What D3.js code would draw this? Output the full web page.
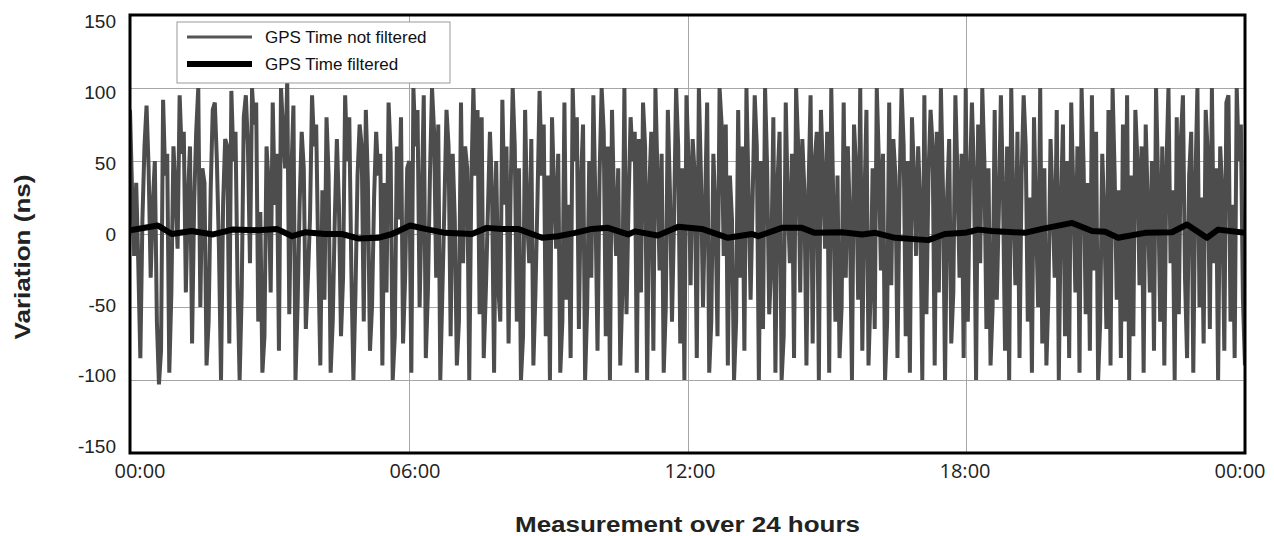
<!doctype html>
<html>
<head>
<meta charset="UTF-8" />
<title>GPS Time variation</title>
<script src="https://d3js.org/d3.v7.min.js"></script>
<style type="text/css">
body {
	margin: 0;
	background: #fff;
}

.grid line {
	stroke: #a6a6a6;
	stroke-width: 1px;
	shape-rendering: crispEdges;
}

.grid path {
	display: none;
}

.axis path, .axis line {
	display: none;
}

.y.axis text {
	font: 19px "Liberation Sans", Arial, sans-serif;
	fill: #222;
}

.x.axis text {
	font: 20px "Open Sans", sans-serif;
	fill: #222;
}

.title {
	font: bold 22px "Liberation Sans", Arial, sans-serif;
	fill: #222;
}

.raw {
	fill: none;
	stroke: #4d4d4d;
	stroke-width: 4px;
	stroke-linejoin: miter;
	stroke-miterlimit: 3;
}

.filtered {
	fill: none;
	stroke: #000;
	stroke-width: 6px;
	stroke-linejoin: round;
}

.legend text {
	font: 17px "Liberation Sans", Arial, sans-serif;
	fill: #111;
}
</style>
</head>
<body>
<script>
	// raw GPS time offset, 540 samples over the day (ns)
	var rawValues = [
		85, 30, -15, 35, -20, -85, 10, 60, 88, 45, -30, 20, 50, -60, -103,
		-80, 92, 40, 55, -95, -40, 60, 30, -10, 95, 55, 70, -40, 25, 60,
		-75, 20, 70, 100, -50, 45, 35, -90, -60, 30, 85, 90, 50, -10, -100,
		20, 65, 60, -75, 98, 50, 70, -35, -100, -40, 80, 95, 60, -20, 100,
		75, 90, -60, 15, -95, -70, 60, 35, -40, 90, 20, 55, -80, 100, 70,
		45, 105, -55, 40, 88, -100, -50, 20, 70, 45, -65, -30, 10, 95, 60,
		75, -15, -90, 30, -45, 80, 40, -95, -60, 10, 65, 20, -70, -30, 95,
		50, 80, -25, -100, -40, 40, 75, 60, -60, 85, 35, -80, -50, 25, 70,
		40, 55, -90, 35, -40, 90, 55, -100, -70, 60, 10, 80, -75, -30, 45,
		50, -95, 100, 60, 85, -50, 20, 95, -85, -40, 40, 100, 70, -30, 75,
		-100, -40, 20, 85, 60, -70, 55, 10, -90, -60, 90, -20, 60, 45, -100,
		35, 100, 40, 85, -55, 80, -85, -40, 15, 70, 30, -95, 50, -35, -60,
		92, 20, 60, -75, 30, 100, 60, -60, 45, -100, -70, 85, 10, -20, 65,
		-90, -40, 25, 98, 40, 75, -70, 40, -100, 80, 30, -10, 55, -95, -60,
		90, -45, 20, -85, 100, 50, 80, -65, 35, 75, -100, -50, 50, -30, 95,
		20, -80, 40, 100, 70, -70, 60, -100, 85, 20, -15, 45, -90, -40, 100,
		-55, 20, 80, 50, 70, -95, 65, -40, 90, 60, -100, 30, 70, -80, 100,
		40, -25, 55, -95, -50, 85, 30, -60, 10, 100, 60, -75, 45, -100, 95,
		50, -35, 65, 40, -85, 100, 40, -50, 20, 90, -95, -60, 55, 15, -70,
		100, 75, -15, 75, -90, 40, 10, -100, -60, 85, -30, 60, -80, 100, 30,
		-45, 25, 95, 60, -100, 50, -65, 100, 45, -55, -20, 80, -95, 35, 70,
		-100, -70, 90, 20, -20, 55, -85, 100, 60, -40, 65, 30, -90, 30, 95,
		-75, 50, 70, -100, 85, 40, -10, 70, -95, 100, 20, -60, 40, -85, -50,
		90, -30, 60, 10, -100, 75, 45, -45, 100, -80, 20, 85, -90, -40, 45,
		-65, 100, 50, -25, 55, -100, -60, 90, -35, 65, 40, -85, 30, 100, 60,
		-70, 50, -95, 80, 40, -15, 60, 20, -100, 95, -55, 40, 85, 60, -90,
		70, -40, 100, 30, -100, 25, 65, -75, -40, 95, 40, -30, 55, -85, 100,
		-60, 35, 90, 40, -100, 75, -20, 100, 50, -65, 45, -90, -50, 85, -45,
		15, 95, 30, -80, 60, -100, 100, 20, -35, 70, -85, 40, 95, 60, -60,
		25, -95, 80, 10, -50, 100, -75, 45, -90, -40, 65, 20, -30, 85, -100,
		20, 75, -70, 50, -85, 90, 30, -40, 60, -95, 100, 45, -55, 35, -80,
		95, -25, 70, -100, -60, 55, 10, -65, 85, -90, 100, 40, -45, 30, -85,
		75, -60, 95, -100, 40, -70, 85, 50, -35, 60, -95, 75, 20, -40, 50,
		-80, 100, 35, -60, 60, -90, 45, 100, -20, 30, -100, 80, -55, 65, 95,
		-30, -85, 40, 70, -95, 35, 100, -50, 25, -75, 85, 55, -65, 100, -20,
		45, -100, 60, 30, -80, 90, 95, -60, 20, -85, 100, 50, 75, -45, -90
	];

	// filtered series: hour of day, offset (ns)
	var filteredHours = [
		0.0, 0.6, 0.9, 1.33, 1.79, 2.2, 2.76, 3.16, 3.49, 3.77, 4.2, 4.56, 4.91, 5.34, 5.64,
		6.03, 6.35, 6.78, 7.36, 7.68, 8.0, 8.35, 8.87, 9.21, 9.58, 9.94, 10.29, 10.72, 10.87,
		11.36, 11.8, 12.31, 12.87, 13.39, 13.52, 14.03, 14.46, 14.74, 15.32, 15.76, 16.04,
		16.47, 17.18, 17.54, 17.97, 18.25, 18.55, 19.26, 19.63, 20.28, 20.71, 20.99, 21.27,
		21.85, 22.43, 22.75, 23.18, 23.42, 24.0
	];
	var filteredValues = [
		2.6, 5.8, 0, 2, -0.3, 3, 2.6, 3.5, -1.5, 1.2, 0, 0, -3, -2.6, 0,
		5.8, 3.5, 0.8, 0, 4.2, 3.5, 3.5, -2.6, -1.5, 0.8, 3.5, 4.2, -0.3, 1.8,
		-1, 4.9, 3.5, -2.6, 0, -1.5, 4.2, 4.2, 0.8, 1.2, -0.3, 0.8,
		-2.6, -4.2, 0, 0.8, 3, 2, 0.8, 3.5, 7.6, 2, 1.5, -2.6,
		0.8, 1.2, 6.5, -2.6, 3, 0.8
	];

	var yTicks = [-150, -100, -50, 0, 50, 100, 150];
	var seriesNames = ["GPS Time not filtered", "GPS Time filtered"];

	var margin = {top: 15, right: 29, bottom: 83, left: 130},
		width = 1274 - margin.left - margin.right,
		height = 536 - margin.top - margin.bottom;

	var day0 = new Date(2000, 0, 1, 0, 0),
		day1 = new Date(2000, 0, 2, 0, 0);

	var x = d3.scaleTime()
		.domain([day0, day1])
		.range([0, width]);

	var y = d3.scaleLinear()
		.domain([-150, 150])
		.range([height, 0]);

	// tick labels sit slightly inside the grid in the original
	var xLabel = d3.scaleTime()
		.domain([day0, day1])
		.range([9.5, width - 5.5]);

	var yLabel = d3.scaleLinear()
		.domain([-150, 150])
		.range([height - 7, 5.5]);

	var hourToDate = function(h) { return new Date(day0.getTime() + h * 3600000); };

	var raw = rawValues.map(function(v, i) {
		return {t: hourToDate(i * 24 / (rawValues.length - 1)), v: v};
	});
	var filtered = filteredValues.map(function(v, i) {
		return {t: hourToDate(filteredHours[i]), v: v};
	});

	var svg = d3.select("body").append("svg")
			.attr("width", 1274)
			.attr("height", 536)
		.append("g")
			.attr("transform", "translate(" + margin.left + "," + margin.top + ")");

	var hourTicks = d3.timeHour.every(6).range(day0, new Date(day1.getTime() + 1));

	svg.append("defs").append("clipPath")
			.attr("id", "clip")
		.append("rect")
			.attr("width", width)
			.attr("height", height);

	// grid
	svg.append("g")
		.attr("class", "grid")
		.call(d3.axisLeft(y).tickValues([-100, -50, 0, 50, 100]).tickSize(-width).tickFormat(""));

	svg.append("g")
		.attr("class", "grid")
		.attr("transform", "translate(0," + height + ")")
		.call(d3.axisBottom(x).tickValues(hourTicks.slice(1, -1)).tickSize(-height).tickFormat(""));

	// tick labels
	svg.append("g")
		.attr("class", "y axis")
		.call(d3.axisLeft(yLabel).tickValues(yTicks).tickSize(0).tickPadding(14)
			.tickFormat(function(d) { return String(d); }))
		.selectAll("text")
		.attr("dy", "0.36em");

	svg.append("g")
		.attr("class", "x axis")
		.attr("transform", "translate(0," + height + ")")
		.call(d3.axisBottom(xLabel).tickValues(hourTicks).tickSize(0).tickPadding(11).tickFormat(d3.timeFormat("%H:%M")));

	var line = d3.line()
		.x(function(d) { return x(d.t); })
		.y(function(d) { return y(d.v); });

	var chart = svg.append("g")
		.attr("clip-path", "url(#clip)");

	chart.append("path")
		.datum(raw)
		.attr("class", "raw")
		.attr("d", line);

	chart.append("path")
		.datum(filtered)
		.attr("class", "filtered")
		.attr("d", line);

	// frame
	svg.append("rect")
		.attr("width", width)
		.attr("height", height)
		.attr("fill", "none")
		.attr("stroke", "#000")
		.attr("stroke-width", 3);

	// legend
	var legend = svg.append("g")
		.attr("class", "legend")
		.attr("transform", "translate(47,7)");

	legend.append("rect")
		.attr("width", 273)
		.attr("height", 61)
		.attr("fill", "#fff")
		.attr("stroke", "#999")
		.attr("stroke-width", 1);

	legend.selectAll("line")
		.data(seriesNames)
		.enter().append("line")
		.attr("x1", 10)
		.attr("x2", 75)
		.attr("y1", function(d, i) { return 15 + i * 27; })
		.attr("y2", function(d, i) { return 15 + i * 27; })
		.attr("stroke", function(d, i) { return i ? "#000" : "#555"; })
		.attr("stroke-width", function(d, i) { return i ? 6 : 3; });

	legend.selectAll("text")
		.data(seriesNames)
		.enter().append("text")
		.attr("x", 88)
		.attr("y", function(d, i) { return 21 + i * 27; })
		.text(function(d) { return d; });

	// titles
	svg.append("text")
		.attr("class", "title")
		.attr("text-anchor", "middle")
		.attr("transform", "translate(" + (-margin.left + 30) + "," + (height / 2 + 23) + ")rotate(-90)")
		.attr("textLength", 165)
		.attr("lengthAdjust", "spacingAndGlyphs")
		.text("Variation (ns)");

	svg.append("text")
		.attr("class", "title")
		.attr("text-anchor", "middle")
		.attr("x", width / 2)
		.attr("y", height + 79)
		.attr("textLength", 345)
		.attr("lengthAdjust", "spacingAndGlyphs")
		.text("Measurement over 24 hours");
</script>
</body>
</html>
